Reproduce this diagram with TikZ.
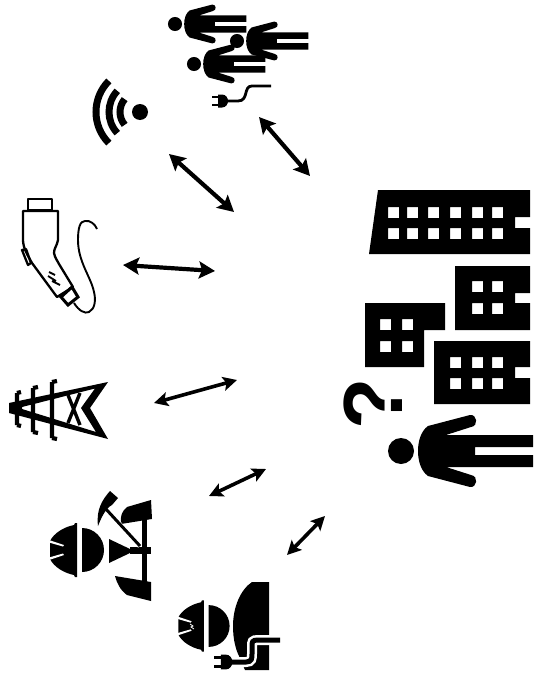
\documentclass[tikz,border=0pt]{standalone}
\usepackage{fontspec}
\setsansfont{Liberation Sans}
\usetikzlibrary{arrows.meta}

\begin{document}
\begin{tikzpicture}[
  x=1pt,y=-1pt,
  link/.style={{Stealth[length=16pt,width=17pt,inset=3pt]}-{Stealth[length=16pt,width=17pt,inset=3pt]},line width=4.2pt},
  linksm/.style={{Stealth[length=14pt,width=14pt,inset=3pt]}-{Stealth[length=14pt,width=14pt,inset=3pt]},line width=3.6pt},
  evline/.style={line width=2.3pt,line join=round},
  wave/.style={line width=7pt},
  mast/.style={line width=4.2pt},
  qmark/.style={font=\sffamily\bfseries\fontsize{84}{84}\selectfont,rotate=90,inner sep=0pt},
  person/.pic={
    \fill (0,0) circle (13);
    \fill (17,0) .. controls (17,-10) and (20,-20) .. (27,-25) -- (69,-36)
      .. controls (76,-37) and (78,-25) .. (70,-24) -- (45,-16) -- (132,-16)
      -- (132,-4) -- (74,-4) -- (74,4) -- (132,4) -- (132,16) -- (45,16) -- (70,24)
      .. controls (78,25) and (76,37) .. (69,36) -- (27,25)
      .. controls (20,20) and (17,10) .. (17,0) -- cycle;
  },
  plughead/.pic={
    \fill (0,-5.2) rectangle (7,-2.6);
    \fill (0,2.6) rectangle (7,5.2);
    \fill (6,-6.5) -- (10,-6.5) .. controls (14,-6.5) and (16,-3) .. (16,0)
      .. controls (16,3) and (14,6.5) .. (10,6.5) -- (6,6.5) -- cycle;
  },
  hardhat/.pic={
    \fill (1,-27) -- (1,27) -- (-1,27) -- (-2,25) .. controls (-12,23) and (-22,17) .. (-26,9)
      -- (-26,-9) .. controls (-22,-17) and (-12,-23) .. (-2,-25) -- (-1,-27) -- cycle;
    \fill[white] (-27,-10) -- (-12,-5) -- (-13,-3.5) -- (-27,-7.5) -- cycle;
    \fill[white] (-27,10) -- (-12,5) -- (-13,3.5) -- (-27,7.5) -- cycle;
    \fill (6,-22) arc[start angle=-90,end angle=90,radius=22] -- cycle;
  }]

\useasboundingbox (0,0) rectangle (533,677);

% people, top
\pic (crowdA) at (175,24) [scale=.54] {person};
\pic (crowdB) at (237,41) [scale=.54] {person};
\pic (crowdC) at (194,64) [scale=.54] {person};
\pic (plugA) at (212,101) {plughead};
\draw[line width=2.8pt] (227,101) -- (238,101) .. controls (249,101) and (243,86) .. (252,86) -- (271,86);

% wifi
\fill (140,112) circle (8);
\draw[wave] (140,112) ++(140:20) arc[start angle=140,end angle=220,radius=20];
\draw[wave] (140,112) ++(137:31) arc[start angle=137,end angle=223,radius=31];
\draw[wave] (140,112) ++(135:44) arc[start angle=135,end angle=225,radius=44];

% charging connector
\draw[evline] (28,199) rectangle (52,210);
\draw[evline] (23,211) -- (58,211) -- (58,240) .. controls (57,246) and (54,248) .. (54,253)
  .. controls (55,258) and (57,260) .. (59,264) -- (73,287) -- (57,297) -- (32,263)
  .. controls (28,256) and (23,248) .. (23,240) -- cycle;
\draw[evline] (22,250) -- (26,249) -- (31,263) -- (28,265) -- cycle;
\draw[line width=3pt] (61,297) -- (72,287) -- (78,297) -- (68,305) -- cycle;
\draw[line width=1.8pt] (49,272) -- (55,275) (48,276) -- (56,281) (52,281) -- (60,285);
\draw[line width=1.9pt] (74,303) .. controls (79,311) and (85,314) .. (89,312)
  .. controls (95,309) and (96,300) .. (94,292) .. controls (91,277) and (78,262) .. (78,240)
  .. controls (78,228) and (80,221) .. (85,221) .. controls (90,220) and (95,224) .. (97,229);

% pylon
\fill[even odd rule] (9,403) -- (108,382) -- (90,408) -- (108,439) -- (9,413) -- cycle
  (22,407) -- (95,388.5) -- (81,408) -- (96,432) -- (22,409) -- cycle;
\draw[mast] (17,393) -- (17,425) (17,393) -- (21,392) (17,425) -- (21,426);
\draw[mast] (33,388) -- (33,432) (33,388) -- (38,387) (33,432) -- (38,433);
\draw[mast] (52,382) -- (52,438) (52,382) -- (57,381) (52,438) -- (57,439);
\draw[line width=3.4pt] (80,393) -- (68,423) (68,395) -- (80,425);

% worker with hammer
\pic (hatA) at (76,550) {hardhat};
\fill (109,539) -- (130,549) -- (130,553) -- (109,563) -- cycle;
\fill (142,519) rectangle (147,582);
\fill (130,547) rectangle (151,554);
\fill (127,507) -- (151,500) -- (152,519) -- (121,524) .. controls (120,516) and (122,511) .. (127,507) -- cycle;
\fill (115,576) -- (151,582) -- (151,601) -- (127,595) .. controls (120,590) and (117,583) .. (115,576) -- cycle;
\draw[white,line width=5pt] (107,511) -- (140,546);
\draw[line width=3pt] (105,508) -- (140,546);
\fill (98,526) .. controls (96,510) and (102,500) .. (110,491) -- (118,498) -- (112,505)
  .. controls (106,508) and (102,516) .. (98,526) -- cycle;

% worker with cable
\pic (hatB) at (203,626) [scale=.95] {hardhat};
\draw[white,line width=.8pt] (190,624) -- (193,626) -- (191,627) -- (194,629);
\fill (269,582) -- (252,582) .. controls (240,590) and (233,608) .. (233,626)
  .. controls (233,640) and (236,650) .. (239,656) -- (245,670) -- (269,670) -- cycle;
\draw[white,line width=10pt] (233,662) -- (246,662) .. controls (252,662) and (252,658) .. (252,654)
  -- (252,646) .. controls (252,642) and (252,640) .. (258,640) -- (282,640);
\draw[line width=5pt] (231,662) -- (246,662) .. controls (252,662) and (252,658) .. (252,654)
  -- (252,646) .. controls (252,642) and (252,640) .. (258,640) -- (280,640);
\pic (plugB) at (214,662) [scale=1.15] {plughead};

% buildings
\fill[even odd rule] (378,190) -- (530,190) -- (530,217) -- (515,217) -- (515,228) -- (530,228) -- (530,254) -- (369,254) -- cycle
  (388,207) rectangle +(11,11) (407,207) rectangle +(11,11) (428,207) rectangle +(11,11)
  (450,207) rectangle +(11,11) (472,207) rectangle +(11,11) (492,207) rectangle +(11,11)
  (388,228) rectangle +(11,11) (407,228) rectangle +(11,11) (428,228) rectangle +(11,11)
  (450,228) rectangle +(11,11) (472,228) rectangle +(11,11) (492,228) rectangle +(11,11);
\fill[even odd rule] (455,266) -- (530,266) -- (530,293) -- (515,293) -- (515,303) -- (530,303) -- (530,330) -- (455,330) -- cycle
  (472,281) rectangle +(11,11) (492,281) rectangle +(11,11)
  (472,303) rectangle +(11,11) (492,303) rectangle +(11,11);
\fill[even odd rule] (365,303) -- (445,303) -- (445,330) -- (424,330) -- (424,367) -- (365,367) -- cycle
  (380,319) rectangle +(11,11) (402,319) rectangle +(11,11)
  (380,341) rectangle +(11,11) (402,341) rectangle +(11,11);
\fill[even odd rule] (434,341) -- (530,341) -- (530,367) -- (515,367) -- (515,378) -- (530,378) -- (530,404) -- (434,404) -- cycle
  (450,357) rectangle +(11,11) (472,357) rectangle +(11,11) (492,357) rectangle +(11,11)
  (450,378) rectangle +(11,11) (472,378) rectangle +(11,11) (492,378) rectangle +(11,11);

\node[qmark] (ask) at (373,404) {?};
\pic (owner) at (401,451) {person};

% links
\coordinate (lkAa) at (259,117); \coordinate (lkAb) at (310,176);
\coordinate (lkBa) at (169,154); \coordinate (lkBb) at (234,212);
\coordinate (lkCa) at (123,265); \coordinate (lkCb) at (215,271);
\coordinate (lkDa) at (154,403); \coordinate (lkDb) at (237,380);
\coordinate (lkEa) at (209,496); \coordinate (lkEb) at (266,469);
\coordinate (lkFa) at (287,555); \coordinate (lkFb) at (325,516);
\draw[link] (lkAa) -- (lkAb);
\draw[link] (lkBa) -- (lkBb);
\draw[link] (lkCa) -- (lkCb);
\draw[linksm] (lkDa) -- (lkDb);
\draw[linksm] (lkEa) -- (lkEb);
\draw[linksm] (lkFa) -- (lkFb);
\end{tikzpicture}
\end{document}
